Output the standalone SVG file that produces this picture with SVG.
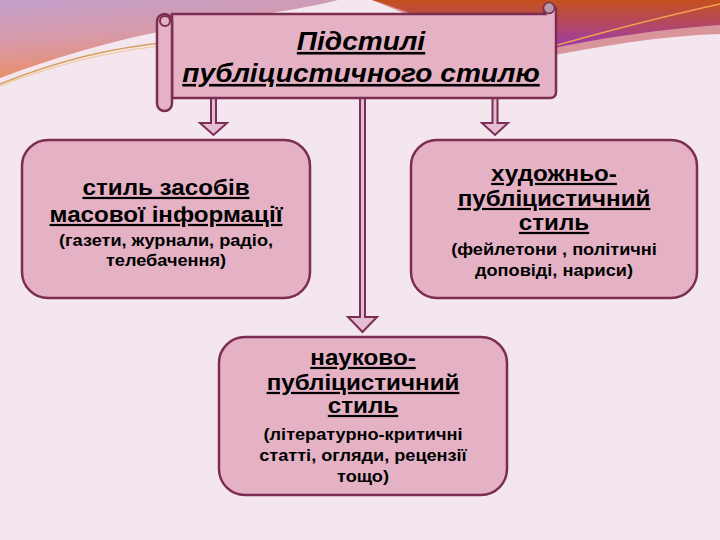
<svg xmlns="http://www.w3.org/2000/svg" width="720" height="540" viewBox="0 0 720 540">
<defs>
<linearGradient id="gl" x1="0" y1="0" x2="0.3" y2="1">
<stop offset="0" stop-color="#c29fcb"/>
<stop offset="0.5" stop-color="#d89aa8"/>
<stop offset="1" stop-color="#ec8c62"/>
</linearGradient>
<linearGradient id="gr" x1="0" y1="0" x2="0" y2="1">
<stop offset="0" stop-color="#c4501c"/>
<stop offset="0.45" stop-color="#b54860"/>
<stop offset="1" stop-color="#9838b8"/>
</linearGradient>
<style>
.box{fill:#e5b2c5;stroke:#7c2d52;stroke-width:2.5}
.arr{fill:#e3bed6;stroke:#7c2d52;stroke-width:2}
.h{font-family:"Liberation Sans",Arial,sans-serif;font-weight:bold;font-size:22px;fill:#000;text-anchor:middle;text-decoration:underline}
.s{font-family:"Liberation Sans",Arial,sans-serif;font-weight:bold;font-size:16.5px;fill:#000;text-anchor:middle}
.t{font-family:"Liberation Sans",Arial,sans-serif;font-weight:bold;font-style:italic;font-size:26px;fill:#000;text-anchor:middle;text-decoration:underline}
</style>
</defs>
<rect x="0" y="0" width="720" height="540" fill="#f4e6ee"/>
<g id="background">
<path d="M0,0 H338 C 250,22 160,18 0,78 Z" fill="url(#gl)"/>
<path d="M0,84 C 60,60 110,48 170,42" fill="none" stroke="#d9a060" stroke-width="1.5"/>
<path d="M0,86 C 60,63 110,51 170,45" fill="none" stroke="#f0c890" stroke-width="1"/>
<path d="M372,0 H720 V34 C 660,36 600,46 540,58 C 470,45 410,15 372,0 Z" fill="#d9959c"/>
<path d="M372,0 H720 V25 C 660,29 600,38 540,51 C 470,38 410,12 372,0 Z" fill="url(#gr)"/>
<path d="M540,50 C 610,30 670,15 720,4" fill="none" stroke="#f0a050" stroke-width="1.5"/>
</g>
<g id="connectors">
<path class="arr" d="M211,98 V123 H200 L213.5,135 L227,123 H216 V98 Z"/>
<path class="arr" d="M360,98 V317 H348 L362.5,332 L377,317 H365 V98 Z"/>
<path class="arr" d="M492.5,98 V123 H482 L495,135 L508,123 H497.5 V98 Z"/>
</g>
<g id="title">
<path d="M545,14 A6,6 0 1 1 556,10 V92 Q556,98 550,98 H172 V14 Z" fill="#e5b2c5" stroke="#7c2d52" stroke-width="2.5"/>
<circle cx="549" cy="8" r="5.5" fill="#b89aaa" stroke="#7c2d52" stroke-width="1.5"/>
<rect x="157" y="14" width="15" height="97" rx="7.5" fill="#e5b2c5" stroke="#7c2d52" stroke-width="2.5"/>
<circle cx="165" cy="21" r="5" fill="#e5b2c5" stroke="#7c2d52" stroke-width="2"/>
<g transform="translate(361 0) scale(1.08 1)">
<text class="t" x="0" y="50">Підстилі</text>
<text class="t" x="0" y="82">публіцистичного стилю</text>
</g>
</g>
<g id="box-media">
<rect class="box" x="22" y="140" width="288" height="158" rx="26"/>
<g transform="translate(166 0) scale(1.1 1)">
<text class="h" x="0" y="195">стиль засобів</text>
<text class="h" x="0" y="222">масової інформації</text>
<text class="s" x="0" y="246">(газети, журнали, радіо,</text>
<text class="s" x="0" y="266">телебачення)</text>
</g>
</g>
<g id="box-art">
<rect class="box" x="411" y="140" width="286" height="158" rx="26"/>
<g transform="translate(554 0) scale(1.1 1)">
<text class="h" x="0" y="181">художньо-</text>
<text class="h" x="0" y="206">публіцистичний</text>
<text class="h" x="0" y="230">стиль</text>
<text class="s" x="0" y="255">(фейлетони , політичні</text>
<text class="s" x="0" y="276">доповіді, нариси)</text>
</g>
</g>
<g id="box-science">
<rect class="box" x="219" y="337" width="288" height="158" rx="26"/>
<g transform="translate(363 0) scale(1.1 1)">
<text class="h" x="0" y="365">науково-</text>
<text class="h" x="0" y="390">публіцистичний</text>
<text class="h" x="0" y="413">стиль</text>
<text class="s" x="0" y="440">(літературно-критичні</text>
<text class="s" x="0" y="461">статті, огляди, рецензії</text>
<text class="s" x="0" y="482">тощо)</text>
</g>
</g>
</svg>
